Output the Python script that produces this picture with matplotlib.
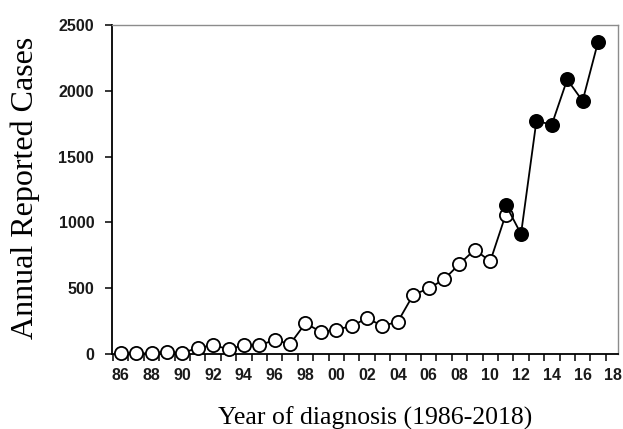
import numpy as np
import matplotlib.pyplot as plt
from matplotlib.ticker import FixedLocator, FuncFormatter

# annual reported cases
years_early = list(range(1986, 2012))
cases_early = [5, 5, 5, 18, 6, 48, 66, 38, 66, 66, 107, 76, 234, 168, 185,
               213, 272, 213, 246, 450, 498, 567, 684, 793, 704, 1057]
years_late = list(range(2011, 2018))
cases_late = [1136, 912, 1771, 1743, 2086, 1923, 2370]

label_years = list(range(1986, 2019, 2))
y_ticks = [0, 500, 1000, 1500, 2000, 2500]

W, H = 623, 429
fig = plt.figure(figsize=(W / 100, H / 100), dpi=100)
ax = fig.add_axes([112.3 / W, 1 - 354 / H, (618 - 112.3) / W, (354 - 25) / H])

ax.plot(years_early, cases_early, color='black', lw=1.3, marker='o',
        markersize=9.5, markerfacecolor='white', markeredgecolor='black',
        markeredgewidth=1.3, clip_on=False, zorder=3)
ax.plot(years_late, cases_late, color='black', lw=1.3, marker='o',
        markersize=9.5, markerfacecolor='black', markeredgecolor='black',
        markeredgewidth=1.3, clip_on=False, zorder=4)

ax.set_xlim(1985.45, 2018.3)
ax.set_ylim(0, 2500)

# labels on even years without marks, tick marks between years
ax.xaxis.set_major_locator(FixedLocator(label_years))
ax.xaxis.set_major_formatter(FuncFormatter(lambda v, p: '%02d' % (int(round(v)) % 100)))
ax.xaxis.set_minor_locator(FixedLocator(np.arange(1985.5, 2018.4, 1.0)))
ax.tick_params(axis='x', which='major', length=0, pad=10)
ax.tick_params(axis='x', which='minor', length=5, width=1.1, direction='out')
ax.set_yticks(y_ticks)
ax.tick_params(axis='y', length=5, width=1.1, direction='out', pad=8)

for lab in ax.get_xticklabels() + ax.get_yticklabels():
    lab.set_fontfamily('Liberation Sans')
    lab.set_fontsize(11.5)
    lab.set_fontweight('bold')
    lab.set_color('#1a1a1a')

for side in ['top', 'right']:
    ax.spines[side].set_color('#8c8c8c')
    ax.spines[side].set_linewidth(1.0)
for side in ['left', 'bottom']:
    ax.spines[side].set_color('black')
    ax.spines[side].set_linewidth(1.3)

fig.text(375.5 / W, 1 - 425 / H, 'Year of diagnosis (1986-2018)',
         family='Liberation Serif', fontsize=18.5, ha='center', va='baseline')
fig.text(33 / W, 1 - 188 / H, 'Annual Reported Cases', family='Liberation Serif',
         fontsize=23, rotation=90, rotation_mode='anchor',
         ha='center', va='baseline')

fig.savefig('out.png', dpi=100)
